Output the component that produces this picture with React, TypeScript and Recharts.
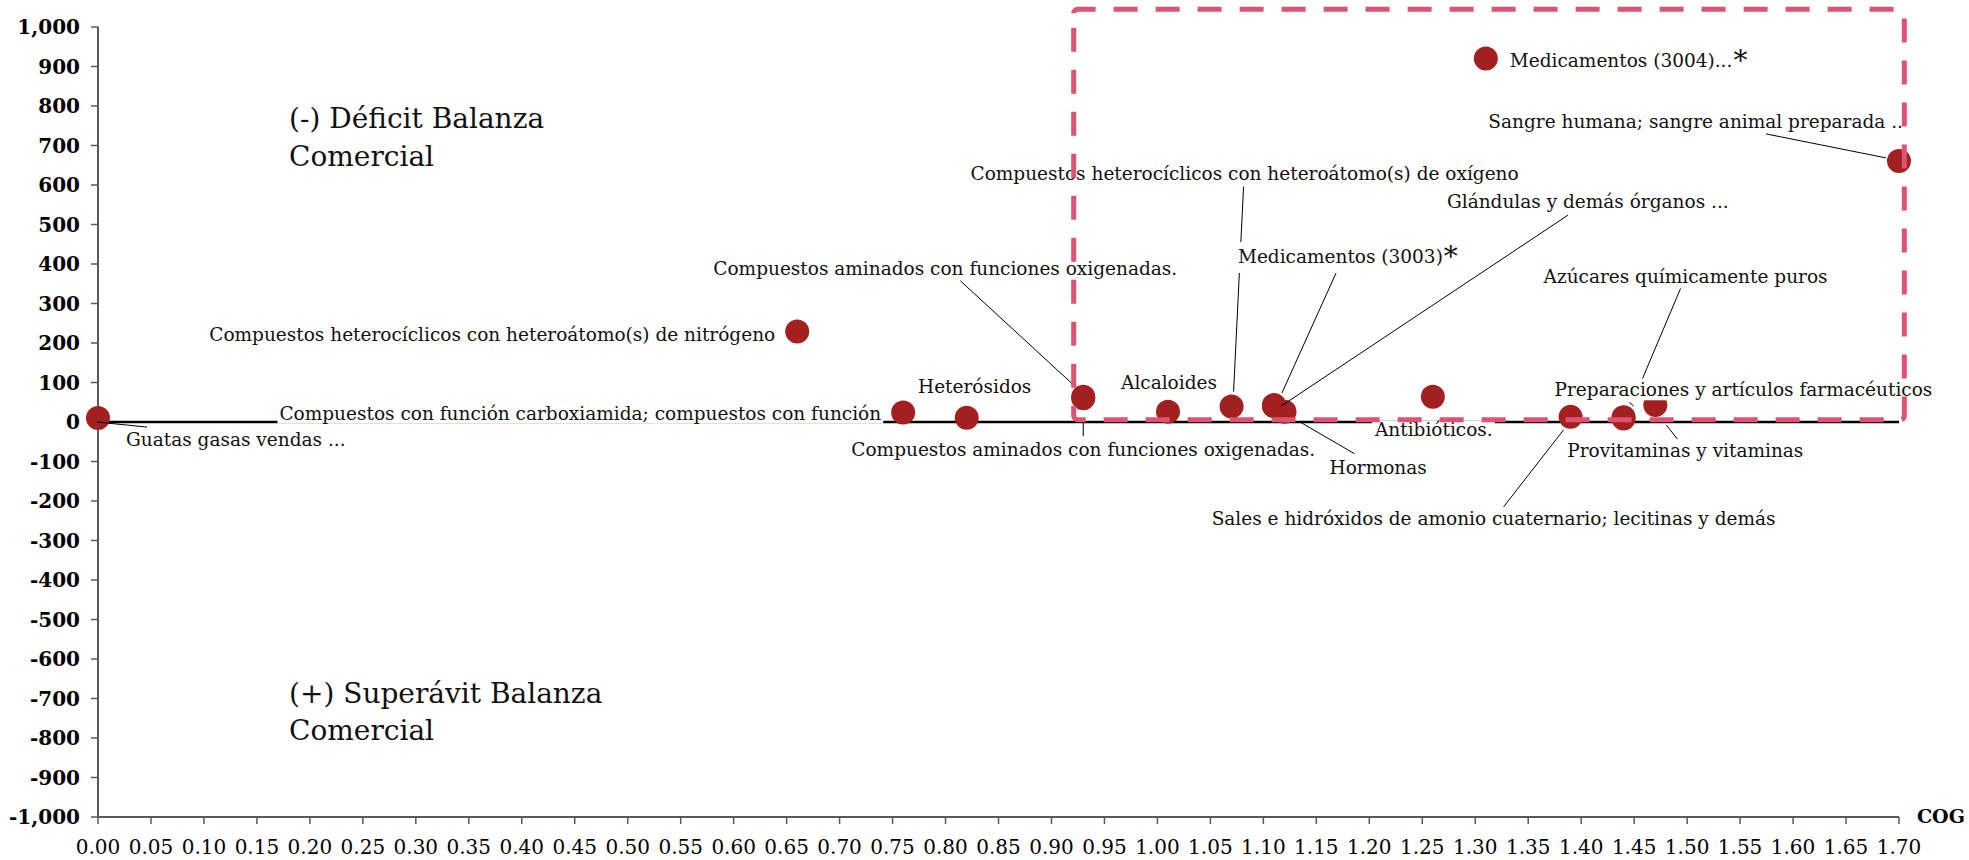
import React, { useLayoutEffect, useRef, useState } from 'react'
import { ScatterChart, Scatter, XAxis, YAxis, ReferenceLine, ReferenceArea } from 'recharts'

const products = [
  'Guatas gasas vendas ...',
  'Compuestos heterocíclicos con heteroátomo(s) de nitrógeno',
  'Compuestos con función carboxiamida; compuestos con función',
  'Heterósidos',
  'Compuestos aminados con funciones oxigenadas.',
  'Compuestos aminados con funciones oxigenadas.',
  'Alcaloides',
  'Compuestos heterocíclicos con heteroátomo(s) de oxígeno',
  'Medicamentos (3003)',
  'Glándulas y demás órganos ...',
  'Hormonas',
  'Antibióticos.',
  'Medicamentos (3004)...',
  'Sales e hidróxidos de amonio cuaternario; lecitinas y demás',
  'Azúcares químicamente puros',
  'Preparaciones y artículos farmacéuticos',
  'Provitaminas y vitaminas',
  'Sangre humana; sangre animal preparada ..',
]
const cogValues = [0.0, 0.66, 0.76, 0.82, 0.93, 0.93, 1.01, 1.07, 1.11, 1.11, 1.12, 1.26, 1.31, 1.39, 1.44, 1.44, 1.47, 1.7]
const balanceValues = [10, 229, 24, 11, 64, 60, 26, 39, 43, 40, 26, 64, 920, 13, 9, 12, 43, 661]
const starred = [8, 12]

const xTicks = [
  0, 0.05, 0.1, 0.15, 0.2, 0.25, 0.3, 0.35, 0.4, 0.45, 0.5, 0.55, 0.6, 0.65, 0.7, 0.75, 0.8, 0.85,
  0.9, 0.95, 1.0, 1.05, 1.1, 1.15, 1.2, 1.25, 1.3, 1.35, 1.4, 1.45, 1.5, 1.55, 1.6, 1.65, 1.7,
]
const yTicks = [
  -1000, -900, -800, -700, -600, -500, -400, -300, -200, -100, 0, 100, 200, 300, 400, 500, 600, 700, 800, 900, 1000,
]

// highlighted zone (dashed box)
const highlight = { x1: 0.921, x2: 1.705, y1: 6, y2: 1045 }

const data = products.map((name, i) => ({ name, cog: cogValues[i], balance: balanceValues[i], i }))

const FONT = "'DejaVu Serif', Georgia, serif"
const DOT = '#A32020'
const PINK = '#DF5270'

// label placement relative to each point (px)
type Layout = { anchor: 'start' | 'middle' | 'end'; dx: number; dy: number; leader?: number[] }
const labelLayout: Layout[] = [
  { anchor: 'start', dx: 28, dy: 28, leader: [-1, 4, 49, 9] },
  { anchor: 'end', dx: -22, dy: 9 },
  { anchor: 'end', dx: -22, dy: 7 },
  { anchor: 'middle', dx: 8, dy: -25 },
  { anchor: 'middle', dx: -138, dy: -122, leader: [-123, -116, -10, -12] },
  { anchor: 'middle', dx: 0, dy: 58, leader: [0, 23, 0, 38] },
  { anchor: 'middle', dx: 1, dy: -23 },
  { anchor: 'middle', dx: 13, dy: -227, leader: [12, -220, 2, -15] },
  { anchor: 'start', dx: -36, dy: -142, leader: [63, -134, 8, -12] },
  { anchor: 'start', dx: 173, dy: -198, leader: [294, -191, 7, 0] },
  { anchor: 'start', dx: 45, dy: 62, leader: [15, 10, 70, 42] },
  { anchor: 'middle', dx: 1, dy: 39 },
  { anchor: 'start', dx: 24, dy: 8 },
  { anchor: 'middle', dx: -77, dy: 108, leader: [-67, 90, -7, 13] },
  { anchor: 'middle', dx: 62, dy: -135, leader: [57, -130, 19, -40] },
  { anchor: 'start', dx: -69, dy: -21, leader: [6, -15, 10, -11] },
  { anchor: 'middle', dx: 30, dy: 52, leader: [11, 20, 22, 34] },
  { anchor: 'end', dx: 4, dy: -33, leader: [-133, -27, -13, -3] },
]

function BoxedText({ x, y, anchor, text, star }: { x: number; y: number; anchor: string; text: string; star: boolean }) {
  const ref = useRef<SVGTextElement>(null)
  const [box, setBox] = useState<{ x: number; y: number; w: number; h: number } | null>(null)
  useLayoutEffect(() => {
    if (ref.current) {
      const b = ref.current.getBBox()
      setBox({ x: b.x, y: b.y, w: b.width, h: b.height })
    }
  }, [x, y, text])
  return (
    <g>
      {box && <rect x={box.x - 2} y={box.y + 2} width={box.w + 4} height={box.h - 2} fill="#fff" />}
      <text ref={ref} x={x} y={y} textAnchor={anchor as any} fontFamily={FONT} fontSize={18.5} fill="#111">
        {text}
        {star && (
          <tspan fontSize={28} dy={3} dx={1}>
            *
          </tspan>
        )}
      </text>
    </g>
  )
}

const DotShape = (props: any) => {
  const { cx, cy } = props
  return <circle cx={cx} cy={cy} r={12} fill={DOT} />
}

const LabelShape = (props: any) => {
  const { cx, cy, payload } = props
  const l = labelLayout[payload.i]
  return (
    <g>
      {l.leader && (
        <line
          x1={cx + l.leader[0]}
          y1={cy + l.leader[1]}
          x2={cx + l.leader[2]}
          y2={cy + l.leader[3]}
          stroke="#000"
          strokeWidth={1}
        />
      )}
      <BoxedText x={cx + l.dx} y={cy + l.dy} anchor={l.anchor} text={payload.name} star={starred.includes(payload.i)} />
    </g>
  )
}

const axisTickY = { fill: '#000', fontSize: 20, fontWeight: 700, fontFamily: FONT }
const axisTickX = { fill: '#000', fontSize: 20, fontFamily: FONT }

export default function App() {
  return (
    <div style={{ position: 'absolute', left: 0, top: 0, width: 1969, height: 860, background: '#fff' }}>
      <ScatterChart width={1969} height={860} margin={{ top: 27, right: 70, bottom: 10, left: 8 }}>
        <XAxis
          type="number"
          dataKey="cog"
          domain={[0, 1.7]}
          ticks={xTicks}
          interval={0}
          height={33}
          tickFormatter={(v: number) => v.toFixed(2)}
          tick={axisTickX}
          tickSize={7}
          tickMargin={16}
          axisLine={{ stroke: '#595959', strokeWidth: 2 }}
          tickLine={{ stroke: '#595959', strokeWidth: 1.5 }}
          label={{
            position: 'right',
            content: (p: any) => (
              <text x={p.viewBox.x + p.viewBox.width + 18} y={p.viewBox.y + 6} fontFamily={FONT} fontWeight={700} fontSize={19} fill="#000">
                COG
              </text>
            ),
          }}
        />
        <YAxis
          type="number"
          dataKey="balance"
          domain={[-1000, 1000]}
          ticks={yTicks}
          interval={0}
          width={90}
          tickFormatter={(v: number) => v.toLocaleString('en-US')}
          tick={axisTickY}
          tickSize={7}
          tickMargin={11}
          axisLine={{ stroke: '#595959', strokeWidth: 2 }}
          tickLine={{ stroke: '#595959', strokeWidth: 1.5 }}
        />
        <ReferenceLine y={0} stroke="#000" strokeWidth={2.5} zIndex={450} />
        <Scatter data={data} shape={DotShape} isAnimationActive={false} zIndex={600} />
        <Scatter data={data} shape={LabelShape} isAnimationActive={false} zIndex={700} />
        <ReferenceArea
          x1={highlight.x1}
          x2={highlight.x2}
          y1={highlight.y1}
          y2={highlight.y2}
          ifOverflow="visible"
          fill="none"
          stroke={PINK}
          strokeWidth={5}
          strokeDasharray="24 18"
          radius={4}
          zIndex={1500}
        />
      </ScatterChart>
      <svg width={1969} height={860} style={{ position: 'absolute', left: 0, top: 0, pointerEvents: 'none' }}>
        <g fontFamily={FONT} fontSize={28} fill="#111">
          <text x={289} y={128}>(-) Déficit Balanza</text>
          <text x={289} y={166}>Comercial</text>
          <text x={289} y={703}>(+) Superávit Balanza</text>
          <text x={289} y={740}>Comercial</text>
        </g>
      </svg>
    </div>
  )
}
